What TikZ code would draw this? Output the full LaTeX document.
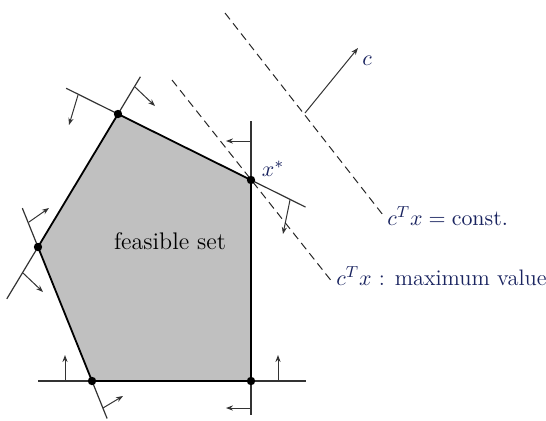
\documentclass[tikz,border=0pt]{standalone}
\usepackage{tikz}
\usetikzlibrary{arrows.meta, positioning, calc}
\definecolor{mathblue}{RGB}{25, 35, 95}
\definecolor{setgray}{RGB}{192, 192, 192}

\begin{document}
\begin{tikzpicture}[x=0.5pt, y=-0.5pt,
  side/.style={draw=black, line width=0.9pt},
  cut/.style={draw=black!80, line width=0.6pt},
  nrm/.style={-{Stealth[length=3.5pt, width=2.6pt]}, draw=black!80, line width=0.5pt},
  lvl/.style={draw=black!85, line width=0.5pt, dash pattern=on 4pt off 2.5pt},
  vtx/.style={circle, fill=black, inner sep=0pt, minimum size=4.2pt},
  mlbl/.style={text=mathblue, font=\fontsize{11.2}{13}\selectfont, inner sep=0pt}
]
  \useasboundingbox (0,0) rectangle (546,420);

  % corners of the feasible set
  \coordinate (A) at (118,114);
  \coordinate (B) at (251,180);
  \coordinate (C) at (251,381);
  \coordinate (D) at (92,381);
  \coordinate (E) at (38,247);

  \fill[setgray] (A) -- (B) -- (C) -- (D) -- (E) -- cycle;

  % constraint lines, continued past the corners
  \coordinate (ab0) at ($(A)!-0.39!(B)$);
  \coordinate (ab1) at ($(B)!-0.41!(A)$);
  \coordinate (ea0) at ($(A)!-0.28!(E)$);
  \coordinate (ea1) at ($(E)!-0.39!(A)$);
  \coordinate (de0) at ($(E)!-0.29!(D)$);
  \coordinate (de1) at ($(D)!-0.28!(E)$);
  \coordinate (dc0) at (38,381);
  \coordinate (dc1) at (306,381);
  \coordinate (bc0) at (251,121);
  \coordinate (bc1) at (251,415);

  \draw[cut] (ab0) -- (A);  \draw[cut] (B) -- (ab1);
  \draw[cut] (ea0) -- (A);  \draw[cut] (E) -- (ea1);
  \draw[cut] (de0) -- (E);  \draw[cut] (D) -- (de1);
  \draw[cut] (dc0) -- (D);  \draw[cut] (C) -- (dc1);
  \draw[cut] (bc0) -- (B);  \draw[cut] (C) -- (bc1);

  \draw[side] (A) -- (B) -- (C) -- (D) -- (E) -- cycle;

  % inward normals
  \coordinate (n1a) at (78,95);   \coordinate (n1b) at (69,125);
  \coordinate (n2a) at (290,200); \coordinate (n2b) at (283,234);
  \coordinate (n3a) at (135,87);  \coordinate (n3b) at (155,106);
  \coordinate (n4a) at (29,222);  \coordinate (n4b) at (49,208);
  \coordinate (n5a) at (23,273);  \coordinate (n5b) at (43,292);
  \coordinate (n6a) at (103,408); \coordinate (n6b) at (123,396);
  \coordinate (n7a) at (65,381);  \coordinate (n7b) at (65,355);
  \coordinate (n8a) at (278,381); \coordinate (n8b) at (278,355);
  \coordinate (n9a) at (251,141); \coordinate (n9b) at (226,141);
  \coordinate (n10a) at (251,408); \coordinate (n10b) at (226,408);
  \foreach \k in {1,...,10}
    \draw[nrm] (n\k a) -- (n\k b);

  % level lines of the objective
  \coordinate (top1) at (225,13);
  \coordinate (bot1) at (383,215);
  \coordinate (top2) at (172,80);
  \coordinate (bot2) at (333,283);
  \draw[lvl] (top1) -- (bot1);
  \draw[lvl] (top2) -- (bot2);

  \coordinate (cfoot) at (305,113);
  \coordinate (ctip)  at (358,48);
  \draw[nrm] (cfoot) -- (ctip);

  \foreach \v in {A,B,C,D,E}
    \node[vtx] (d\v) at (\v) {};

  \node[mlbl] (clbl)   at (367,61)  {$c$};
  \node[mlbl] (xstar)  at (273,169) {$x^*$};
  \node[font=\large] (fset) at (170,241) {feasible set};
  \node[mlbl, anchor=base west] (const) at (387,225) {$c^Tx = \mathrm{const.}$};
  \node[mlbl, anchor=base west] (maxv)  at (336,285) {$c^Tx$ : maximum value};
\end{tikzpicture}
\end{document}
